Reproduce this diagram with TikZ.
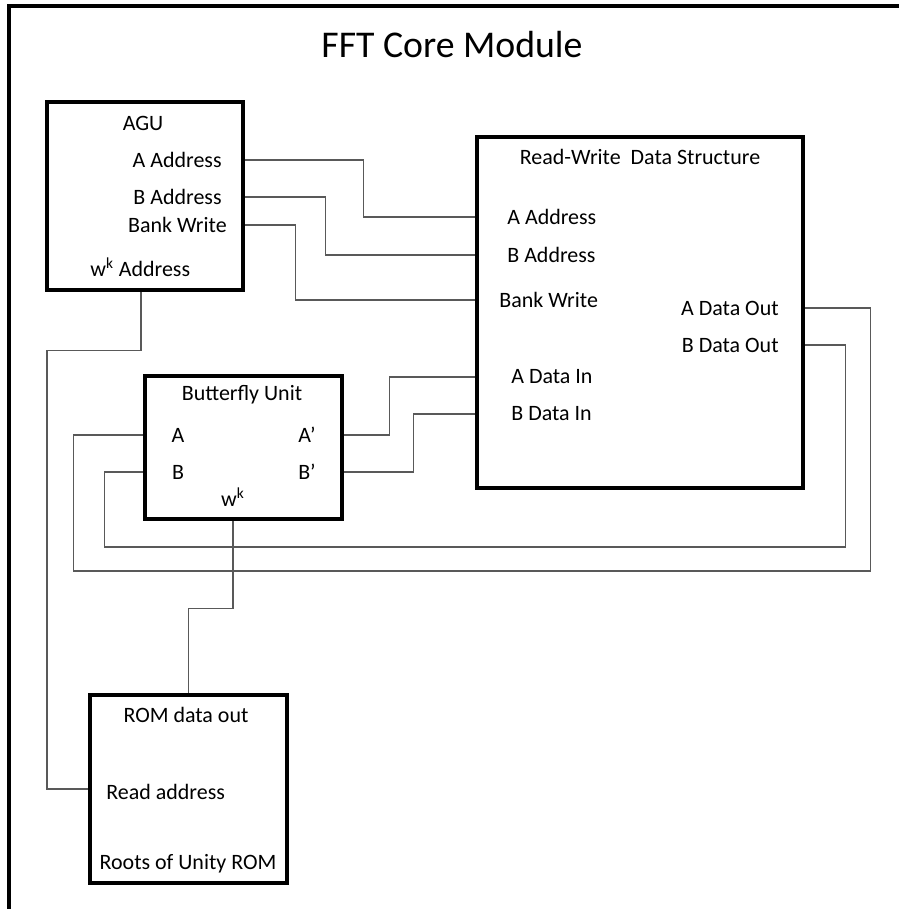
\documentclass[tikz,border=0pt]{standalone}
\usepackage{fontspec}
\setmainfont{Carlito}
\usepackage{tikz}
\usetikzlibrary{positioning}
\tikzset{
  unitbox/.style={
    draw=black,
    line width=2.5pt,
    inner sep=0pt
  },
  portlabel/.style={
    inner sep=0pt,
    font=\fontsize{12.5}{15}\selectfont
  },
  titlelabel/.style={
    inner sep=0pt,
    font=\fontsize{21.5}{26}\selectfont
  },
  wire/.style={
    draw=black!65,
    line width=0.75pt
  },
  framewall/.style={
    line width=2.3pt
  }
}

\begin{document}
\begin{tikzpicture}[x=0.02cm, y=-0.02cm]
  \useasboundingbox (0,0) rectangle (899,909);
  \draw[framewall] (9,909) -- (9,6) -- (899,6);
  \node[titlelabel] (title) at (452,45) {FFT Core Module};

  \node[unitbox, minimum width=3.92cm, minimum height=3.76cm] (agu) at (145,196) {};
  \node[unitbox, minimum width=6.52cm, minimum height=7.02cm] (rwds) at (640,312.5) {};
  \node[unitbox, minimum width=3.94cm, minimum height=2.86cm] (bfly) at (243.5,447.5) {};
  \node[unitbox, minimum width=3.94cm, minimum height=3.76cm] (rom) at (188.5,789) {};

  \node[portlabel] (aguName) at (143,123) {AGU};
  \node[portlabel, anchor=east] (aguA) at (222,160) {A Address};
  \node[portlabel, anchor=east] (aguB) at (222,197) {B Address};
  \node[portlabel, anchor=east] (aguW) at (227,225) {Bank Write};
  \node[portlabel, anchor=west] (aguK) at (90,267) {w\textsuperscript{k} Address};

  \node[portlabel] (rwName) at (640,157) {Read-Write\ \ Data Structure};
  \node[portlabel, anchor=west] (rwA) at (507,217) {A Address};
  \node[portlabel, anchor=west] (rwB) at (507,255) {B Address};
  \node[portlabel, anchor=west] (rwW) at (499,300) {Bank Write};
  \node[portlabel, anchor=west] (rwAin) at (511,377) {A Data In};
  \node[portlabel, anchor=west] (rwBin) at (511,414) {B Data In};
  \node[portlabel, anchor=east] (rwAout) at (779,308) {A Data Out};
  \node[portlabel, anchor=east] (rwBout) at (779,345) {B Data Out};

  \node[portlabel] (bfName) at (242,395) {Butterfly Unit};
  \node[portlabel] (bfA) at (178,435) {A};
  \node[portlabel] (bfB) at (178,472) {B};
  \node[portlabel] (bfAp) at (307,435) {A’};
  \node[portlabel] (bfBp) at (307,472) {B’};
  \node[portlabel] (bfK) at (233,497) {w\textsuperscript{k}};

  \node[portlabel] (romOut) at (186,715) {ROM data out};
  \node[portlabel, anchor=west] (romRead) at (106,792) {Read address};
  \node[portlabel] (romName) at (188,864) {Roots of Unity ROM};

  \draw[wire] (agu.east |- aguA) -- ++(118,0) |- (rwds.west |- rwA);
  \draw[wire] (agu.east |- aguB) -- ++(80,0) |- (rwds.west |- rwB);
  \draw[wire] (agu.east |- aguW) -- ++(50,0) |- (rwds.west |- rwW);
  \draw[wire] (agu.south) ++(-4,0) -- ++(0,58) -- ++(-94,0) |- (rom.west);
  \draw[wire] (bfly.east |- bfAp) -- ++(45,0) |- (rwds.west |- rwAin);
  \draw[wire] (bfly.east |- bfBp) -- ++(69,0) |- (rwds.west |- rwBin);
  \draw[wire] (rwds.east |- rwAout) -- ++(65,0) -- ++(0,263) -- ++(-797,0) |- (bfly.west |- bfA);
  \draw[wire] (rwds.east |- rwBout) -- ++(40,0) -- ++(0,202) -- ++(-741,0) |- (bfly.west |- bfB);
  \draw[wire] (bfly.south -| bfK) -- ++(0,87) -| (rom.north);
\end{tikzpicture}
\end{document}
